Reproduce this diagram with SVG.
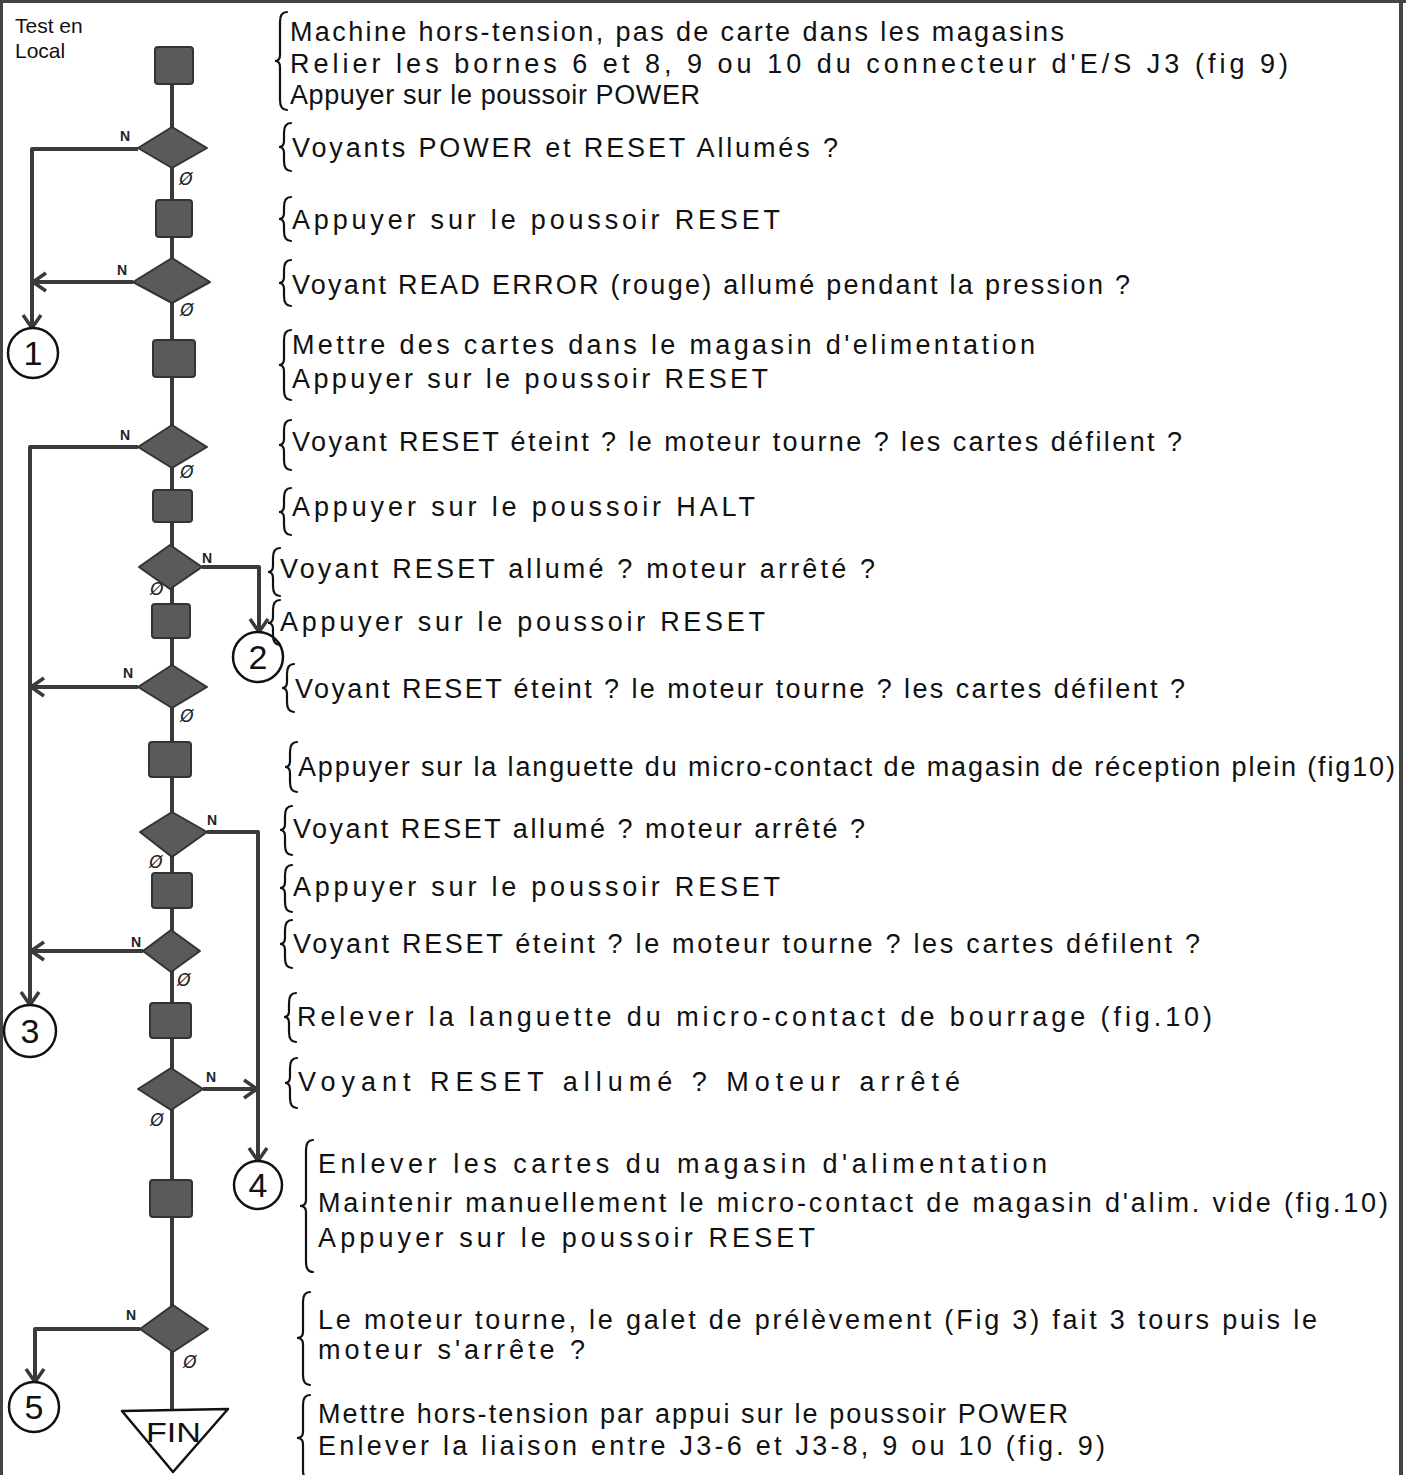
<svg xmlns="http://www.w3.org/2000/svg" width="1406" height="1475" viewBox="0 0 1406 1475">
<style>
.t{font-family:"Liberation Sans",Arial,sans-serif;font-size:27px;fill:#111}
.title{font-family:"Liberation Sans",Arial,sans-serif;font-size:21px;fill:#111}
.n{font-family:"Liberation Sans",Arial,sans-serif;font-size:14px;font-weight:bold;fill:#222;text-anchor:middle}
.o{font-family:"DejaVu Sans",sans-serif;font-size:17px;font-style:italic;fill:#222;text-anchor:middle}
.num{font-family:"Liberation Sans",Arial,sans-serif;font-size:34px;fill:#111;text-anchor:middle}
.shape{fill:#5a5a5a;stroke:#333;stroke-width:2;stroke-linejoin:round}
.circ{fill:#fff;stroke:#111;stroke-width:2.5}
.tri{fill:#fff;stroke:#111;stroke-width:2.5;stroke-linejoin:round}
.wire{fill:none;stroke:#3a3a3a;stroke-width:4;stroke-linejoin:round}
.brace{fill:none;stroke:#111;stroke-width:2.2;stroke-linecap:round}
.frame{stroke:#444;fill:none}
</style>
<defs>
<marker id="ah" viewBox="-16 -11 18 22" refX="0" refY="0" markerWidth="18" markerHeight="22" markerUnits="userSpaceOnUse" orient="auto">
<path d="M-13,-9 L0,0 L-13,9" fill="none" stroke="#3a3a3a" stroke-width="3.5" stroke-linejoin="round"/>
</marker>
</defs>
<rect width="1406" height="1475" fill="#fff"/>
<g id="frame">
<line class="frame" x1="0" y1="1.5" x2="1406" y2="1.5" stroke-width="3"/>
<line class="frame" x1="1.5" y1="0" x2="1.5" y2="1475" stroke-width="3"/>
<line class="frame" x1="1401" y1="0" x2="1401" y2="1475" stroke-width="4"/>
</g>
<text class="title" x="15" y="33">Test en</text>
<text class="title" x="15" y="58">Local</text>

<g id="connectors">
<path class="wire" d="M172,84 V1410"/>
<path class="wire" d="M138,149 H32 V328" marker-end="url(#ah)"/>
<path class="wire" d="M133,282 H33" marker-end="url(#ah)"/>
<path class="wire" d="M138,447 H30 V1005" marker-end="url(#ah)"/>
<path class="wire" d="M202,567 H259 V632" marker-end="url(#ah)"/>
<path class="wire" d="M138,687 H31" marker-end="url(#ah)"/>
<path class="wire" d="M207,832 H258 V1161" marker-end="url(#ah)"/>
<path class="wire" d="M143,951 H31" marker-end="url(#ah)"/>
<path class="wire" d="M203,1089 H257" marker-end="url(#ah)"/>
<path class="wire" d="M140,1329 H35 V1382" marker-end="url(#ah)"/>
<text class="n" x="125" y="141">N</text>
<text class="n" x="122" y="275">N</text>
<text class="n" x="125" y="440">N</text>
<text class="n" x="207" y="563">N</text>
<text class="n" x="128" y="678">N</text>
<text class="n" x="212" y="825">N</text>
<text class="n" x="136" y="947">N</text>
<text class="n" x="211" y="1082">N</text>
<text class="n" x="131" y="1320">N</text>
<text class="o" x="186" y="185">Ø</text>
<text class="o" x="187" y="316">Ø</text>
<text class="o" x="187" y="478">Ø</text>
<text class="o" x="157" y="595">Ø</text>
<text class="o" x="187" y="722">Ø</text>
<text class="o" x="156" y="868">Ø</text>
<text class="o" x="184" y="986">Ø</text>
<text class="o" x="157" y="1126">Ø</text>
<text class="o" x="190" y="1368">Ø</text>
</g>

<g id="step1"><rect class="shape" x="155" y="47" width="38" height="37" rx="3"/></g>
<g id="dec1"><polygon class="shape" points="172,127 207,148 172,168 138,148"/></g>
<g id="step2"><rect class="shape" x="156" y="200" width="36" height="37" rx="3"/></g>
<g id="dec2"><polygon class="shape" points="172,258 210,282 172,303 133,282"/></g>
<g id="step3"><rect class="shape" x="153" y="340" width="42" height="37" rx="3"/></g>
<g id="dec3"><polygon class="shape" points="172,425 207,447 172,468 138,447"/></g>
<g id="step4"><rect class="shape" x="153" y="490" width="39" height="32" rx="3"/></g>
<g id="dec4"><polygon class="shape" points="170,545 202,567 170,589 139,567"/></g>
<g id="step5"><rect class="shape" x="152" y="604" width="38" height="34" rx="3"/></g>
<g id="dec5"><polygon class="shape" points="172,665 207,687 172,708 138,687"/></g>
<g id="step6"><rect class="shape" x="149" y="742" width="42" height="35" rx="3"/></g>
<g id="dec6"><polygon class="shape" points="172,812 207,832 172,857 140,832"/></g>
<g id="step7"><rect class="shape" x="152" y="873" width="40" height="35" rx="3"/></g>
<g id="dec7"><polygon class="shape" points="171,930 200,951 171,972 143,951"/></g>
<g id="step8"><rect class="shape" x="150" y="1003" width="41" height="35" rx="3"/></g>
<g id="dec8"><polygon class="shape" points="171,1068 203,1089 171,1110 138,1089"/></g>
<g id="step9"><rect class="shape" x="150" y="1180" width="42" height="37" rx="3"/></g>
<g id="dec9"><polygon class="shape" points="173,1305 208,1329 173,1352 140,1329"/></g>
<g id="fin"><polygon class="tri" points="122,1411 228,1409 173,1472"/><text class="t" x="146" y="1442" font-size="23" textLength="55" lengthAdjust="spacingAndGlyphs">FIN</text></g>

<g id="conn1"><circle class="circ" cx="33" cy="353" r="25"/><text class="num" x="33" y="365">1</text></g>
<g id="conn2"><circle class="circ" cx="258" cy="657" r="25"/><text class="num" x="258" y="669">2</text></g>
<g id="conn3"><circle class="circ" cx="30" cy="1031" r="26"/><text class="num" x="30" y="1043">3</text></g>
<g id="conn4"><circle class="circ" cx="258" cy="1185" r="24"/><text class="num" x="258" y="1197">4</text></g>
<g id="conn5"><circle class="circ" cx="34" cy="1407" r="25"/><text class="num" x="34" y="1419">5</text></g>

<g id="braces">
<path class="brace" d="M287,12 Q280,12 280,22 L280,55 Q280,61 275,61 Q280,61 280,67 L280,100 Q280,110 287,110"/>
<path class="brace" d="M291,123 Q284,123 284,133 L284,141 Q284,147 279,147 Q284,147 284,153 L284,161 Q284,171 291,171"/>
<path class="brace" d="M291,197 Q284,197 284,207 L284,213 Q284,219 279,219 Q284,219 284,225 L284,231 Q284,241 291,241"/>
<path class="brace" d="M291,260 Q284,260 284,270 L284,277 Q284,283 279,283 Q284,283 284,289 L284,296 Q284,306 291,306"/>
<path class="brace" d="M291,330 Q284,330 284,340 L284,359 Q284,365 279,365 Q284,365 284,371 L284,390 Q284,400 291,400"/>
<path class="brace" d="M291,420 Q284,420 284,430 L284,439 Q284,445 279,445 Q284,445 284,451 L284,460 Q284,470 291,470"/>
<path class="brace" d="M291,488 Q284,488 284,498 L284,506 Q284,512 279,512 Q284,512 284,518 L284,525 Q284,535 291,535"/>
<path class="brace" d="M280,548 Q273,548 273,558 L273,566 Q273,572 268,572 Q273,572 273,578 L273,586 Q273,596 280,596"/>
<path class="brace" d="M280,600 Q273,600 273,610 L273,617 Q273,623 268,623 Q273,623 273,629 L273,635 Q273,645 280,645"/>
<path class="brace" d="M294,664 Q287,664 287,674 L287,682 Q287,688 282,688 Q287,688 287,694 L287,702 Q287,712 294,712"/>
<path class="brace" d="M297,742 Q290,742 290,752 L290,761 Q290,767 285,767 Q290,767 290,773 L290,782 Q290,792 297,792"/>
<path class="brace" d="M292,806 Q285,806 285,816 L285,824 Q285,830 280,830 Q285,830 285,836 L285,845 Q285,855 292,855"/>
<path class="brace" d="M292,865 Q285,865 285,875 L285,882 Q285,888 280,888 Q285,888 285,894 L285,902 Q285,912 292,912"/>
<path class="brace" d="M292,920 Q285,920 285,930 L285,938 Q285,944 280,944 Q285,944 285,950 L285,958 Q285,968 292,968"/>
<path class="brace" d="M296,993 Q289,993 289,1003 L289,1011 Q289,1017 284,1017 Q289,1017 289,1023 L289,1032 Q289,1042 296,1042"/>
<path class="brace" d="M297,1058 Q290,1058 290,1068 L290,1077 Q290,1083 285,1083 Q290,1083 290,1089 L290,1098 Q290,1108 297,1108"/>
<path class="brace" d="M313,1140 Q306,1140 306,1150 L306,1200 Q306,1206 300,1206 Q306,1206 306,1212 L306,1262 Q306,1272 313,1272"/>
<path class="brace" d="M310,1292 Q303,1292 303,1302 L303,1332 Q303,1338 297,1338 Q303,1338 303,1344 L303,1375 Q303,1385 310,1385"/>
<path class="brace" d="M310,1395 Q303,1395 303,1405 L303,1432 Q303,1438 297,1438 Q303,1438 303,1444 L303,1470 Q303,1480 310,1480"/>
</g>

<g id="texts">
<text class="t" x="290" y="41" textLength="774" lengthAdjust="spacing">Machine hors-tension, pas de carte dans les magasins</text>
<text class="t" x="290" y="73" textLength="998" lengthAdjust="spacing">Relier les bornes 6 et 8, 9 ou 10 du connecteur d'E/S J3 (fig 9)</text>
<text class="t" x="290" y="104" textLength="410" lengthAdjust="spacing">Appuyer sur le poussoir POWER</text>
<text class="t" x="292" y="157" textLength="546" lengthAdjust="spacing">Voyants POWER et RESET Allumés ?</text>
<text class="t" x="292" y="229" textLength="488" lengthAdjust="spacing">Appuyer sur le poussoir RESET</text>
<text class="t" x="292" y="294" textLength="838" lengthAdjust="spacing">Voyant READ ERROR (rouge) allumé pendant la pression ?</text>
<text class="t" x="292" y="354" textLength="743" lengthAdjust="spacing">Mettre des cartes dans le magasin d'elimentation</text>
<text class="t" x="292" y="388" textLength="476" lengthAdjust="spacing">Appuyer sur le poussoir RESET</text>
<text class="t" x="292" y="451" textLength="890" lengthAdjust="spacing">Voyant RESET éteint ? le moteur tourne ? les cartes défilent ?</text>
<text class="t" x="292" y="516" textLength="463" lengthAdjust="spacing">Appuyer sur le poussoir HALT</text>
<text class="t" x="280" y="578" textLength="595" lengthAdjust="spacing">Voyant RESET allumé ? moteur arrêté ?</text>
<text class="t" x="280" y="631" textLength="485" lengthAdjust="spacing">Appuyer sur le poussoir RESET</text>
<text class="t" x="295" y="698" textLength="890" lengthAdjust="spacing">Voyant RESET éteint ? le moteur tourne ? les cartes défilent ?</text>
<text class="t" x="298" y="776" textLength="1097" lengthAdjust="spacing">Appuyer sur la languette du micro-contact de magasin de réception plein (fig10)</text>
<text class="t" x="293" y="838" textLength="572" lengthAdjust="spacing">Voyant RESET allumé ? moteur arrêté ?</text>
<text class="t" x="293" y="896" textLength="487" lengthAdjust="spacing">Appuyer sur le poussoir RESET</text>
<text class="t" x="293" y="953" textLength="907" lengthAdjust="spacing">Voyant RESET éteint ? le moteur tourne ? les cartes défilent ?</text>
<text class="t" x="297" y="1026" textLength="915" lengthAdjust="spacing">Relever la languette du micro-contact de bourrage (fig.10)</text>
<text class="t" x="298" y="1091" textLength="662" lengthAdjust="spacing">Voyant RESET allumé ? Moteur arrêté</text>
<text class="t" x="318" y="1173" textLength="729" lengthAdjust="spacing">Enlever les cartes du magasin d'alimentation</text>
<text class="t" x="318" y="1212" textLength="1070" lengthAdjust="spacing">Maintenir manuellement le micro-contact de magasin d'alim. vide (fig.10)</text>
<text class="t" x="318" y="1247" textLength="497" lengthAdjust="spacing">Appuyer sur le poussoir RESET</text>
<text class="t" x="318" y="1329" textLength="999" lengthAdjust="spacing">Le moteur tourne, le galet de prélèvement (Fig 3) fait 3 tours puis le</text>
<text class="t" x="318" y="1359" textLength="267" lengthAdjust="spacing">moteur s'arrête ?</text>
<text class="t" x="318" y="1423" textLength="750" lengthAdjust="spacing">Mettre hors-tension par appui sur le poussoir POWER</text>
<text class="t" x="318" y="1455" textLength="787" lengthAdjust="spacing">Enlever la liaison entre J3-6 et J3-8, 9 ou 10 (fig. 9)</text>
</g>
</svg>
